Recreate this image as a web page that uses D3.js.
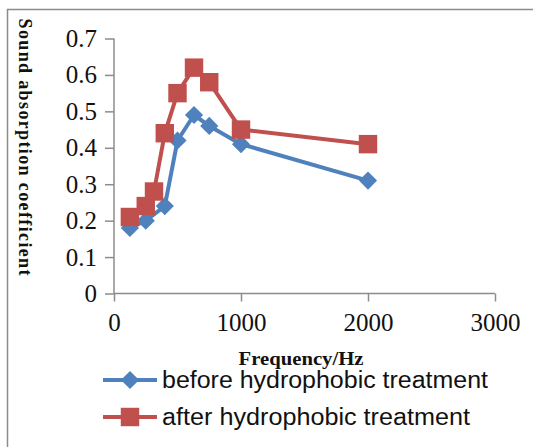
<!doctype html>
<html lang="en">
<head>
<meta charset="UTF-8">
<script src="https://d3js.org/d3.v7.min.js"></script>
<title>Sound absorption</title>
<style>
  body { margin: 0; background: #fff; }
</style>
</head>
<body>
<div class="container"></div>
<script>
    // data
    let freqBefore = [125, 250, 400, 500, 630, 750, 1000, 2000];
    let valBefore = [0.18, 0.20, 0.24, 0.42, 0.49, 0.46, 0.41, 0.31];
    let freqAfter = [125, 250, 315, 400, 500, 630, 750, 1000, 2000];
    let valAfter = [0.21, 0.24, 0.28, 0.44, 0.55, 0.62, 0.58, 0.45, 0.41];
    let xTicks = [0, 1000, 2000, 3000];
    let yTicks = [0, 0.1, 0.2, 0.3, 0.4, 0.5, 0.6, 0.7];
    let seriesNames = ['before hydrophobic treatment', 'after hydrophobic treatment'];

    let W = 533, H = 447;
    let blue = '#4f81bd', red = '#c0504d', grey = '#8c8c8c';

    let svg = d3.select('.container').append('svg')
        .attr('width', W)
        .attr('height', H);

    svg.append('rect').attr('width', W).attr('height', H).attr('fill', '#fff');
    // outer frame (runs off the right and bottom)
    svg.append('rect')
        .attr('x', 7.5).attr('y', 9.5)
        .attr('width', 600).attr('height', 500)
        .attr('fill', 'none').attr('stroke', grey).attr('stroke-width', 1.5);

    let x = d3.scaleLinear().domain([0, 3000]).range([114, 495]);
    let y = d3.scaleLinear().domain([0, 0.7]).range([293.5, 38.5]);

    // y axis
    let gy = svg.append('g').attr('transform', 'translate(114,0)')
        .call(d3.axisLeft(y).tickValues(yTicks).tickSize(9).tickPadding(8)
            .tickFormat(d => d === 0 ? '0' : d3.format('.1f')(d)));
    // x axis
    let gx = svg.append('g').attr('transform', 'translate(0,293.5)')
        .call(d3.axisBottom(x).tickValues(xTicks).tickSize(8).tickPadding(6)
            .tickFormat(d3.format('d')));

    [gx, gy].forEach(g => {
        g.select('.domain').attr('stroke', grey).attr('stroke-width', 1.5)
            .attr('d', g === gx ? 'M114,0H495' : 'M0,38.5V293.5');
        g.selectAll('.tick line').attr('stroke', grey).attr('stroke-width', 1.5);
        g.selectAll('.tick text')
            .attr('fill', '#111')
            .style('font-family', '"Liberation Serif", "Times New Roman", serif')
            .style('font-size', '25px');
    });
    gx.selectAll('.tick text').attr('dy', '0.95em');

    // axis titles
    svg.append('text')
        .attr('transform', 'translate(25,147) rotate(90)')
        .attr('text-anchor', 'middle')
        .attr('dominant-baseline', 'central')
        .attr('textLength', 257).attr('lengthAdjust', 'spacing')
        .style('font-family', '"Liberation Serif", "Times New Roman", serif')
        .style('font-weight', 'bold')
        .style('font-size', '18px')
        .attr('fill', '#111')
        .text('Sound absorption coefficient');

    svg.append('text')
        .attr('x', 301).attr('y', 365)
        .attr('text-anchor', 'middle')
        .attr('textLength', 125).attr('lengthAdjust', 'spacingAndGlyphs')
        .style('font-family', '"Liberation Serif", "Times New Roman", serif')
        .style('font-weight', 'bold')
        .style('font-size', '19px')
        .attr('fill', '#111')
        .text('Frequency/Hz');

    let line = d3.line().x(d => x(d[0])).y(d => y(d[1]));
    let before = freqBefore.map((f, i) => [f, valBefore[i]]);
    let after = freqAfter.map((f, i) => [f, valAfter[i]]);

    let diamond = d3.symbol().type(d3.symbolDiamond2).size(210);
    let square = d3.symbol().type(d3.symbolSquare).size(340);

    // before series
    svg.append('path').datum(before)
        .attr('d', line).attr('fill', 'none')
        .attr('stroke', blue).attr('stroke-width', 4).attr('stroke-linejoin', 'round');
    svg.selectAll('.mb').data(before).enter().append('path')
        .attr('class', 'mb')
        .attr('transform', d => 'translate(' + x(d[0]) + ',' + y(d[1]) + ')')
        .attr('d', diamond).attr('fill', blue);

    // after series
    svg.append('path').datum(after)
        .attr('d', line).attr('fill', 'none')
        .attr('stroke', red).attr('stroke-width', 4).attr('stroke-linejoin', 'round');
    svg.selectAll('.ma').data(after).enter().append('path')
        .attr('class', 'ma')
        .attr('transform', d => 'translate(' + x(d[0]) + ',' + y(d[1]) + ')')
        .attr('d', square).attr('fill', red);

    // legend
    let legend = svg.append('g');
    let legY = [380, 417];
    let legW = [326, 308];
    seriesNames.forEach((name, i) => {
        let col = i === 0 ? blue : red;
        legend.append('line')
            .attr('x1', 103).attr('x2', 157)
            .attr('y1', legY[i]).attr('y2', legY[i])
            .attr('stroke', col).attr('stroke-width', 4);
        legend.append('path')
            .attr('transform', 'translate(130,' + legY[i] + ')')
            .attr('d', i === 0 ? diamond : square)
            .attr('fill', col);
        legend.append('text')
            .attr('x', 162).attr('y', legY[i] + 8)
            .attr('textLength', legW[i]).attr('lengthAdjust', 'spacingAndGlyphs')
            .style('font-family', '"Liberation Sans", Arial, sans-serif')
            .style('font-size', '23px')
            .attr('fill', '#111')
            .text(name);
    });
</script>
</body>
</html>
